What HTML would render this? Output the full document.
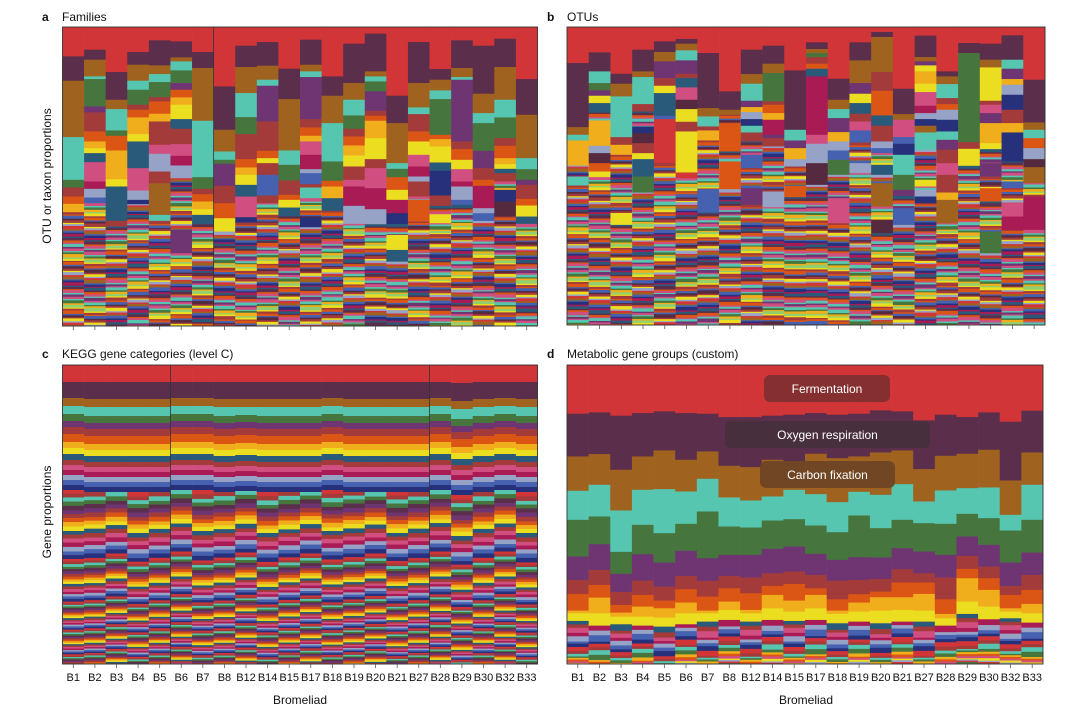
<!DOCTYPE html>
<html><head><meta charset="utf-8">
<style>
html,body{margin:0;padding:0;background:#fff;}
svg{display:block;font-family:"Liberation Sans",Arial,sans-serif;}
</style></head>
<body>
<svg id="fig" width="1080" height="716" viewBox="0 0 1080 716" xmlns="http://www.w3.org/2000/svg">
  <text x="42" y="21" font-size="12" font-weight="bold" fill="#111">a</text>
  <text x="62" y="21" font-size="12" fill="#111">Families</text>
  <text x="547" y="21" font-size="12" font-weight="bold" fill="#111">b</text>
  <text x="567" y="21" font-size="12" fill="#111">OTUs</text>
  <text x="42" y="358" font-size="12" font-weight="bold" fill="#111">c</text>
  <text x="62" y="358" font-size="12" fill="#111">KEGG gene categories (level C)</text>
  <text x="547" y="358" font-size="12" font-weight="bold" fill="#111">d</text>
  <text x="567" y="358" font-size="12" fill="#111">Metabolic gene groups (custom)</text>
  <text transform="translate(51,176) rotate(-90)" text-anchor="middle" font-size="12" fill="#111">OTU or taxon proportions</text>
  <text transform="translate(51,512) rotate(-90)" text-anchor="middle" font-size="12" fill="#111">Gene proportions</text>
  <text x="300" y="704" text-anchor="middle" font-size="12" fill="#111">Bromeliad</text>
  <text x="806" y="704" text-anchor="middle" font-size="12" fill="#111">Bromeliad</text>
  <g id="pa"></g>
  <g id="pb"></g>
  <g id="pc"></g>
  <g id="pd"></g>
</svg>
<script>
const bromeliads = ["B1","B2","B3","B4","B5","B6","B7","B8","B12","B14","B15","B17","B18","B19","B20","B21","B27","B28","B29","B30","B32","B33"];

// Panel a: cumulative layer bottoms (code + value), domain 22..918
const familyDomain = [22, 918];
const families = [
"R110 D183 N352 T480 G503 K530 O552 A577",
"R90 D120 N170 T178 G260 P278 K335 O365 A385 Y400 S427 I485 M507 L533 B550",
"R157 D240 N268 T332 G348 O392 A478 Y500 S603 K620",
"R97 D135 N183 T210 G255 K270 O293 A343 Y365 S445 I512 L540 V553",
"R62 D137 N163 T187 G232 K245 O282 A305 K375 I402 L455 K490 N585 T603",
"R65 D113 N125 T152 G190 P210 O233 A255 Y298 S327 K373 I408 M437 L465 s630 P700",
"R97 D145 N303 T472 G507 K523 O545 A568 Y585 S610",
"R200 D330 N395 T420 G432 P498 K550 O595 Y635",
"R78 D142 N220 T292 G343 K418 O443 A465 Y495 S530 I592 V608",
"R67 D138 N180 T198 P305 K393 O415 Y430 K465 B527 K550",
"R147 D238 N392 T435 G482 K525 O540 Y563 S585",
"R60 D135 N155 T172 P298 K323 O348 A365 I405 M448 L460 B493 K503 T535 s593 V622",
"R170 D228 N310 T425 G483 O500 A535 S573",
"R72 D190 N240 T287 G327 K350 O377 A407 Y440 K480 I500 M558 L612",
"R42 D155 N170 T185 G215 P273 K288 O303 A355 Y418 K445 I505 M568 L613",
"R228 D310 N430 T447 G472 O510 Y540 M580 V612 s645 Y690 S725",
"R67 D190 N263 T283 K335 O365 Y405 I440 M470 L485 K530 s540 O605",
"R148 D180 N212 T238 G345 O358 A380 Y428 S453 V527 K558 s583 Y610",
"R62 D145 N172 T180 P365 K388 O420 Y448 I485 M500 L540 B555",
"R78 D222 N280 T310 G393 P445 K480 O498 M565 L580 B603",
"R57 D142 N240 T293 G355 K378 O415 A433 Y447 S460 K485 s510 V545 W590",
"R178 D285 N415 T448 G480 P495 K537 O557 Y590 S612"
];

// Panel b: domain 22..915
const otuDomain = [22, 915];
const otus = [
"R130 D322 N345 T362 A437 s470 T497",
"R98 D155 T190 G212 P228 Y250 S272 s302 A378 L400 W430 O455 Y472",
"R162 D192 N230 T352 K375 A405 s580 Y615",
"R90 D155 N172 T253 K275 s320 V340 W370 K400 Y418 S470 G518",
"R65 D97 N125 P175 K198 Y220 S288 B298 R430",
"R58 D72 N92 T122 P162 K175 S203 I240 W268 Y306 K335 Y458 R475",
"R100 D265 N290 T320 K332 A362 s508 B578",
"R215 D270 N285 s310 O395 s425 O508",
"R90 D163 N192 T243 P262 A277 L298 V318 T338 K365 s405 B445 s505 P555",
"R78 D132 N160 G245 K255 O280 A300 M345 P355 K380 s515 L562",
"R152 D330 T362 P385 A418 L440 s498 O532",
"R68 D88 N100 G112 K132 O147 S170 M345 I372 L430 W495",
"R177 D240 N268 T295 P337 A365 L392 B420 G465 s535 I610",
"R68 D122 N190 P222 Y250 S282 K305 I332 B368 s430 L460",
"R37 D52 N157 K213 O287 S318 K365 L385 B400 s435 S465 s490 N560 s600 W640",
"R207 D283 N300 I352 B372 V405 T465 G510 P528 s565 B615",
"R48 D112 N125 P137 Y155 A192 Y217 I258 M280 L298 V318 N338 T390 s480 Y500 s510 L530 V550",
"R155 D170 N193 T235 K253 O270 L300 V335 T360 P390 K430 I465 K518 A540 N610",
"R70 D100 G367 K387 Y438",
"R72 D120 N143 Y243 K255 I280 P310 A370 Y388 s430 P470 s505 O545 s635 G700",
"R47 D120 T147 P178 A195 L225 V270 K310 A338 V425 s485 B505 s550 I590 M630",
"R180 D308 N330 T355 O385 L418 W442 N490 s530 M630"
];

// Panel c: KEGG major band thicknesses (domain 0..299), per-column teal and red
const keggDomain = [0, 299];
const keggRed = [17,17,17,17,17,17,17,17,17,17,17,17,17,17,17,17,17,17,18,17,17,17];
const keggDark = [16,17,17,17,17,16,16,17,17,17,17,17,16,17,17,17,17,16,18,17,16,17];
const keggTeal = [8,9,9,9,9,8,8,9,8,9,9,9,8,9,9,9,9,8,10,9,8,9];
const keggBandCodes = ["N","G","P","K","O","A","Y","S","K","I","M","L","B","V"];
const keggBandVals = [8,7,6,7,8,6,6,6,5,5,5,5,5,5];

// Panel d: cumulative bottoms, domain 16..912
const metaDomain = [16, 912];
const fermentation = [162,158,168,160,155,160,162,172,172,168,165,160,165,162,152,155,182,165,172,158,186,153];
const oxygenResp   = [290,283,330,290,272,300,275,318,322,300,305,282,295,290,278,272,328,288,282,270,362,278];
const carbonFix    = [393,375,452,390,388,395,357,413,422,410,390,403,427,396,405,373,425,392,385,383,465,375];
const tealGroup    = [480,470,576,495,520,492,455,500,503,482,478,497,517,467,505,480,490,492,462,475,512,480];
const greenGroup   = [590,553,642,583,608,573,595,585,585,567,560,582,600,592,593,565,575,585,530,555,608,578];
const purpleGroup  = [660,630,696,662,680,648,663,648,653,640,635,645,662,660,657,628,640,653,588,620,678,645];
const brickGroup   = [702,675,735,705,722,688,710,685,700,678,672,685,718,703,695,668,668,718,627,655,705,690];
const orangeGroup  = [752,713,758,740,745,728,752,725,750,705,722,705,752,728,712,712,702,762,655,690,745,732];
const goldGroup    = [760,760,770,770,773,760,760,750,760,745,755,745,762,755,752,750,752,775,725,740,755,760];
const yellowGroup  = [783,797,793,797,800,793,785,780,785,780,783,780,790,785,790,785,785,797,762,778,775,788];
const metaSeries = [fermentation,oxygenResp,carbonFix,tealGroup,greenGroup,purpleGroup,brickGroup,orangeGroup,goldGroup,yellowGroup];
const metaCodes = ["R","D","N","T","G","P","K","O","A","Y"];

const COL = {R:'#d13538',D:'#5b2e4b',N:'#a0621f',T:'#57c6b0',G:'#46753e',P:'#6f3572',K:'#a33b3b',O:'#db5614',A:'#f0ae1c',Y:'#ebdd20',S:'#2a5a7a',M:'#a81b55',I:'#d04f80',L:'#97a3c6',B:'#4561b0',V:'#27307a',W:'#552a3f',E:'#8fcf70'};
const stripeOrder = ['K','Y','V','I','G','O','L','M','T','A','B','R','S','P','E','W','N','D','I','Y','K','B','O','T'];
const stripeThick = [2.2,1.3,3,1.6,2.6,1.2,1.8,3.4,1.4,2,1.1,2.8,1.5,2.3];
const NS = 'http://www.w3.org/2000/svg';

function rect(g,x,y,w,h,fill){
  const r=document.createElementNS(NS,'rect');
  r.setAttribute('x',x);r.setAttribute('y',y);r.setAttribute('width',w);r.setAttribute('height',Math.max(0,h));r.setAttribute('fill',fill);
  g.appendChild(r);return r;
}
function stripes(g,x,w,y0,y1,seed,scale){
  let y=y0,i=seed;
  while(y<y1-0.1){
    let t=stripeThick[i%stripeThick.length]*scale;
    if(y+t>y1)t=y1-y;
    const r=rect(g,x,y,w,t+0.4,COL[stripeOrder[(i*5+seed)%stripeOrder.length]]);
    
    
    y+=t;i++;
  }
}
function frame(g,X,Y,W,H,dividers,labels,name){
  const cw=W/22;
  dividers.forEach(k=>{
    const l=document.createElementNS(NS,'line');
    l.setAttribute('x1',X+k*cw);l.setAttribute('x2',X+k*cw);l.setAttribute('y1',Y);l.setAttribute('y2',Y+H);
    l.setAttribute('stroke','#333');l.setAttribute('stroke-width','0.8');
    
    
    g.appendChild(l);
  });
  const f=rect(g,X,Y,W,H,'none');f.setAttribute('stroke','#333');f.setAttribute('stroke-width','0.9');
  
  
  bromeliads.forEach((b,i)=>{
    const cx=X+(i+0.5)*cw;
    const t=document.createElementNS(NS,'line');
    t.setAttribute('x1',cx);t.setAttribute('x2',cx);t.setAttribute('y1',Y+H);t.setAttribute('y2',Y+H+4);
    t.setAttribute('stroke','#555');t.setAttribute('stroke-width','0.8');
    
    
    g.appendChild(t);
    if(labels){
      const tx=document.createElementNS(NS,'text');
      tx.setAttribute('x',cx);tx.setAttribute('y',Y+H+17);tx.setAttribute('text-anchor','middle');
      tx.setAttribute('font-size','11');tx.setAttribute('fill','#111');
      tx.textContent=b;
      
      
      g.appendChild(tx);
    }
  });
}
function tokenPanel(id,data,dom,X,Y,W,H,stripeScale,dividers,labels,name){
  const g=document.getElementById(id);
  const cw=W/22;
  const ys=v=>Y+(v-dom[0])/(dom[1]-dom[0])*H;
  data.forEach((s,i)=>{
    const x=X+i*cw;let prev=dom[0];
    s.split(' ').forEach((tok,j)=>{
      const c=tok[0],v=+tok.slice(1);
      if(c==='s'){stripes(g,x,cw,ys(prev),ys(v),i*7+j,stripeScale);}
      else{
        const r=rect(g,x,ys(prev),cw+0.3,ys(v)-ys(prev)+0.4,COL[c]);
        
        
      }
      prev=v;
    });
    stripes(g,x,cw+0.3,ys(prev),Y+H,i*11,stripeScale);
  });
  frame(g,X,Y,W,H,dividers,labels,name);
}
tokenPanel('pa',families,familyDomain,62.5,27,475,299,1,[7],false,'panel-a');
tokenPanel('pb',otus,otuDomain,567,27,478,298,1,[],false,'panel-b');

// Panel c
(function(){
  const g=document.getElementById('pc');
  const X=62.5,Y=365,W=475,H=299,cw=W/22;
  const ys=v=>Y+(v-keggDomain[0])/(keggDomain[1]-keggDomain[0])*H;
  const cyc=['R','K','T','G','D','P','K','O','A','Y','S','K','I','M','L','B','V'];
  const roundThick=[4.1,2.5,1.65,1.45,1.3,1.2,1.1,1.0,0.95,0.9,0.85,0.8];
  for(let i=0;i<22;i++){
    const x=X+i*cw;
    const codes=['R','D'].concat(['N'],['T'],keggBandCodes.slice(1));
    const vals=[keggRed[i],keggDark[i],keggBandVals[0],keggTeal[i]].concat(keggBandVals.slice(1));
    let v=0;
    codes.forEach((c,k)=>{
      const r=rect(g,x,ys(v),cw+0.3,ys(v+vals[k])-ys(v)+0.4,COL[c]);
      
      
      v+=vals[k];
    });
    let y=ys(v),round=0,k=(i%3);
    while(y<Y+H-0.1){
      let t=roundThick[Math.min(round,roundThick.length-1)]*(1+((i*3+k)%5-2)*0.06);
      if(y+t>Y+H)t=Y+H-y;
      const r=rect(g,x,y,cw+0.3,t+0.4,COL[cyc[k%cyc.length]]);
      
      
      y+=t;k++;if(k%cyc.length===0)round++;
    }
  }
  frame(g,X,Y,W,H,[5,17],true,'panel-c');
})();

// Panel d
(function(){
  const g=document.getElementById('pd');
  const X=567,Y=365,W=476,H=299,cw=W/22;
  const ys=v=>Y+(v-metaDomain[0])/(metaDomain[1]-metaDomain[0])*H;
  const lower=['S','K','I','M','L','B','V','R','K','T','G','A','O','I','Y','L','R','G','T','E','Y'];
  const lowerT=[5,4,5,3,4,3,4,4,2.5,2,2,2,1.8,1.6,1.6,1.5,1.4,1.3,1.3,1.2,1.2];
  for(let i=0;i<22;i++){
    const x=X+i*cw;let prev=metaDomain[0];
    metaSeries.forEach((arr,k)=>{
      const r=rect(g,x,ys(prev),cw+0.3,ys(arr[i])-ys(prev)+0.4,COL[metaCodes[k]]);
      
      
      prev=arr[i];
    });
    let y=ys(prev),k=0;
    while(y<Y+H-0.1){
      let t=lowerT[Math.min(k,lowerT.length-1)]*(1+((i*7+k)%5-2)*0.15);
      if(y+t>Y+H)t=Y+H-y;
      const r=rect(g,x,y,cw+0.3,t+0.4,COL[lower[(k+ (i%2)*3)%lower.length]]);
      
      
      y+=t;k++;
    }
  }
  frame(g,X,Y,W,H,[],true,'panel-d');
  const boxes=[["Fermentation",764,375,126,'#7d2f30'],["Oxygen respiration",725,421,205,'#45303c'],["Carbon fixation",760,461,135,'#6b4425']];
  boxes.forEach(b=>{
    const r=rect(g,b[1],b[2],b[3],27,b[4]);r.setAttribute('rx','6');r.setAttribute('opacity','0.9');
    
    
    const t=document.createElementNS(NS,'text');
    t.setAttribute('x',b[1]+b[3]/2);t.setAttribute('y',b[2]+18);t.setAttribute('text-anchor','middle');
    t.setAttribute('font-size','12');t.setAttribute('fill','#fff');t.textContent=b[0];
    
    
    g.appendChild(t);
  });
})();
</script>
</body></html>
